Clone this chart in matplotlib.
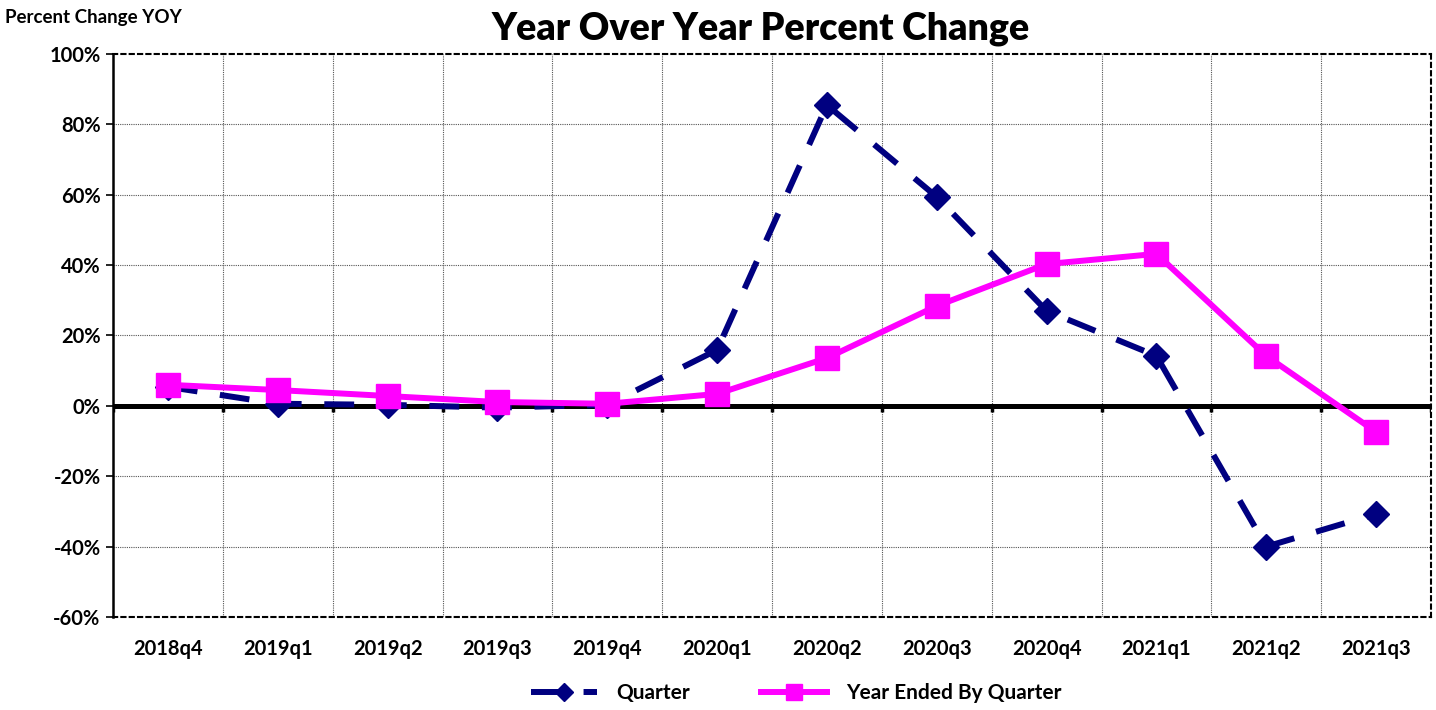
import matplotlib
matplotlib.use("Agg")
import matplotlib.pyplot as plt
import numpy as np

categories = ["2018q4", "2019q1", "2019q2", "2019q3", "2019q4", "2020q1",
              "2020q2", "2020q3", "2020q4", "2021q1", "2021q2", "2021q3"]
quarter = [5.4, 0.6, 0.3, -0.5, 0.3, 15.9, 85.5, 59.4, 27.0, 14.2, -40.0, -30.7]
year_ended = [6.0, 4.5, 2.8, 1.1, 0.6, 3.4, 13.6, 28.4, 40.3, 43.2, 14.2, -7.4]
yticks = [-60, -40, -20, 0, 20, 40, 60, 80, 100]

plt.rcParams['font.family'] = ['Lato', 'DejaVu Sans']

fig = plt.figure(figsize=(14.36, 7.10), dpi=100)
ax = fig.add_axes([113/1436, 1 - 617/710, (1431 - 113)/1436, (617 - 54)/710])

x = np.arange(len(categories))
navy = "#000080"
magenta = "#FF00FF"

# grid
for b in np.arange(0.5, len(categories) - 0.5, 1):
    ax.axvline(b, color="#555555", lw=0.8, ls=(0, (1, 1)), zorder=1)
for yt in yticks[1:-1]:
    ax.axhline(yt, color="#555555", lw=0.8, ls=(0, (1, 1)), zorder=1)

# zero line and its tick marks
ax.axhline(0, color="black", lw=3.6, zorder=2)
ax.vlines(np.arange(-0.5, len(categories) + 0.5, 1), -1.8, 0, color="black", lw=2.5, zorder=2)

ax.plot(x, quarter, color=navy, lw=4.3, ls=(0, (5, 3.8)), marker="D", ms=13,
        markerfacecolor=navy, markeredgecolor=navy, label="Quarter", zorder=3)
ax.plot(x, year_ended, color=magenta, lw=4.3, marker="s", ms=17,
        markerfacecolor=magenta, markeredgecolor=magenta,
        label="Year Ended By Quarter", zorder=4)

ax.set_xlim(-0.5, len(categories) - 0.5)
ax.set_ylim(-60, 100)
ax.set_yticks(yticks)
ax.set_yticklabels([f"{v}%" for v in yticks], fontsize=14.5, fontweight="bold")
ax.set_xticks(x)
ax.set_xticklabels(categories, fontsize=14.5, fontweight="bold")
ax.tick_params(axis="x", length=0, pad=16)
ax.tick_params(axis="y", direction="out", length=5, width=1.2, pad=4)

for s in ["top", "right", "bottom"]:
    ax.spines[s].set_linestyle((0, (2, 2)))
    ax.spines[s].set_linewidth(1.5)
    ax.spines[s].set_color("black")
ax.spines["left"].set_linewidth(1.8)
ax.spines["left"].set_color("black")

fig.text(761/1436, 1 - 29/710, "Year Over Year Percent Change",
         ha="center", va="center", fontsize=27, fontweight="heavy")
fig.text(5/1436, 1 - 17/710, "Percent Change YOY", ha="left", va="center",
         fontsize=13.5, fontweight="bold")

leg = fig.legend(loc="center", bbox_to_anchor=(796/1436, 1 - 693/710), ncol=2,
                 frameon=False, handlelength=3.2, columnspacing=3.4, markerscale=0.7,
                 prop={"weight": "bold", "size": 15}, handletextpad=0.9)

fig.savefig("out.png", dpi=100)
